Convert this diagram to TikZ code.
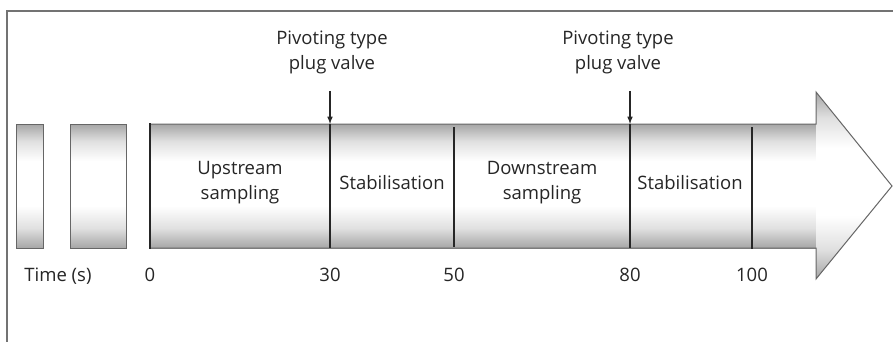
\documentclass[tikz,border=0pt]{standalone}
\usepackage{fontspec}
\setmainfont{Open Sans}
\usepackage{tikz}
\usetikzlibrary{arrows,positioning}
\pgfdeclareverticalshading{tubeshade}{100bp}{color(0bp)=(black!35); color(25bp)=(black!35);
  color(33bp)=(black!12); color(42bp)=(white); color(60bp)=(white); color(68bp)=(black!12);
  color(75bp)=(black!35); color(100bp)=(black!35)}

\begin{document}
\begin{tikzpicture}[x=1pt,y=-1pt,
            every node/.style={font=\fontsize{18.5}{25}\selectfont,inner sep=0pt,text=black!85},
            frame/.style={draw=black!55,line width=1.3pt},
            tube/.style={shading=tubeshade},
            rim/.style={draw=black!60,line width=1pt},
            timeline/.style={draw=black!85,line width=1.8pt},
            lab/.style={align=center},
            ticklab/.style={anchor=base},
            every path/.style={>=latex}
          ]
          \useasboundingbox (0,0) rectangle (893,342);
          \fill[white] (0,0) rectangle (893,342);

          %frame
          \draw[frame] (7,342) -- (7,11) -- (893,11);

          %cut tube pieces
          \path[tube,rim] (16,124) rectangle (43,248);
          \path[tube,rim] (70,124) rectangle (126,248);

          %big arrow
          \path[tube] (150,124) rectangle (817,248);
          \path[tube] (816,92) -- (892,186) -- (816,279) -- cycle;
          \path[rim] (150,124) -- (816,124) -- (816,92) -- (892,186)
            -- (816,279) -- (816,248) -- (150,248) -- cycle;

          %time marks
          \coordinate (t0a) at (150,123);   \coordinate (t0b) at (150,249);
          \coordinate (t30a) at (330,124);  \coordinate (t30b) at (330,248);
          \coordinate (t50a) at (454,127);  \coordinate (t50b) at (454,247);
          \coordinate (t80a) at (630,124);  \coordinate (t80b) at (630,248);
          \coordinate (t100a) at (752,127); \coordinate (t100b) at (752,249);
          \draw[timeline,line width=2.8pt] (t0a) -- (t0b);
          \draw[timeline] (t30a) -- (t30b);
          \draw[timeline] (t50a) -- (t50b);
          \draw[timeline] (t80a) -- (t80b);
          \draw[timeline] (t100a) -- (t100b);

          %valves
          \node[lab] (v1) at (332,52) {Pivoting type\\plug valve};
          \node[lab] (v2) at (618,52) {Pivoting type\\plug valve};
          \coordinate (a30) at (330,91);
          \coordinate (a80) at (630,91);
          \draw[->,line width=1.5pt,black!85] (a30) -- (t30a);
          \draw[->,line width=1.5pt,black!85] (a80) -- (t80a);

          %phases
          \node[lab] (up) at (240,183) {Upstream\\sampling};
          \node[lab] (st1) at (392,183) {Stabilisation};
          \node[lab] (down) at (542,183) {Downstream\\sampling};
          \node[lab] (st2) at (690,183) {Stabilisation};

          %labels
          \node[ticklab] (time) at (58,281) {Time (s)};
          \node[ticklab] (l0) at (150,281) {0};
          \node[ticklab] (l30) at (330,281) {30};
          \node[ticklab] (l50) at (454,281) {50};
          \node[ticklab] (l80) at (630,281) {80};
          \node[ticklab] (l100) at (752,281) {100};

      \end{tikzpicture}
\end{document}
